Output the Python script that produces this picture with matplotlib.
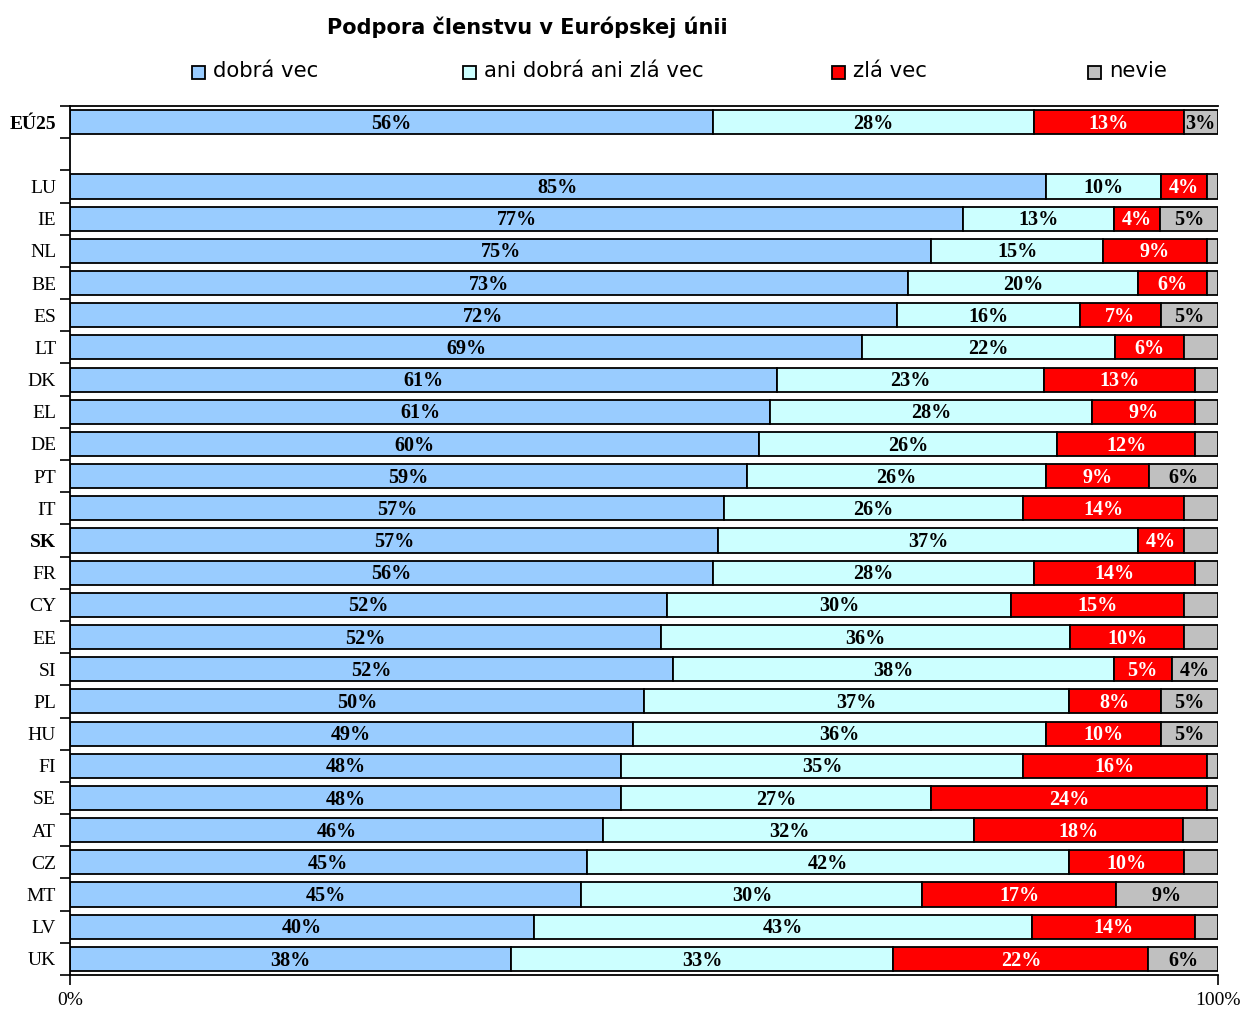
import matplotlib
matplotlib.use("Agg")
import matplotlib.pyplot as plt
import numpy as np
from matplotlib.patches import Rectangle

# --- data ---
countries = ['EÚ25', 'LU', 'IE', 'NL', 'BE', 'ES', 'LT', 'DK', 'EL', 'DE', 'PT', 'IT', 'SK',
             'FR', 'CY', 'EE', 'SI', 'PL', 'HU', 'FI', 'SE', 'AT', 'CZ', 'MT', 'LV', 'UK']
good = [56, 85, 77, 75, 73, 72, 69, 61, 61, 60, 59, 57, 57, 56, 52, 52, 52, 50, 49, 48, 48, 46, 45, 45, 40, 38]
neither = [28, 10, 13, 15, 20, 16, 22, 23, 28, 26, 26, 26, 37, 28, 30, 36, 38, 37, 36, 35, 27, 32, 42, 30, 43, 33]
bad = [13, 4, 4, 9, 6, 7, 6, 13, 9, 12, 9, 14, 4, 14, 15, 10, 5, 8, 10, 16, 24, 18, 10, 17, 14, 22]
dunno = [3, 1, 5, 1, 1, 5, 3, 2, 2, 2, 6, 3, 3, 2, 3, 3, 4, 5, 5, 1, 1, 3, 3, 9, 2, 6]
series_names = ['dobrá vec', 'ani dobrá ani zlá vec', 'zlá vec', 'nevie']
colors = ['#99CCFF', '#CCFFFF', '#FF0000', '#C0C0C0']
text_colors = ['black', 'black', 'white', 'black']
bold_rows = ['EÚ25', 'SK']

data = np.array([good, neither, bad, dunno], dtype=float)
shares = data / data.sum(axis=0) * 100

# EU25 on top, one empty row, then the countries
ypos = np.array([0] + [i + 1 for i in range(1, len(countries))])

fig = plt.figure(figsize=(12.46, 10.10), dpi=100)
ax = fig.add_axes([70 / 1246, 35 / 1010, 1148 / 1246, 869 / 1010])

left = np.zeros(len(countries))
for k in range(4):
    ax.barh(ypos, shares[k], left=left, height=0.75, color=colors[k],
            edgecolor='black', linewidth=1.3)
    for i, c in enumerate(countries):
        v = data[k, i]
        if k == 3 and v < 4 and c != 'EÚ25':
            continue
        ax.text(left[i] + shares[k, i] / 2, ypos[i] + 0.05, f"{int(v)}%", ha='center', va='center',
                color=text_colors[k], fontsize=14.5, fontweight='bold',
                family='Liberation Serif')
    left += shares[k]

ax.set_xlim(0, 100)
ax.set_ylim(ypos.max() + 0.47, -0.47)
ax.set_yticks(ypos)
ax.set_yticklabels(countries, family='Liberation Serif', fontsize=14)
for lbl in ax.get_yticklabels():
    if lbl.get_text() in bold_rows:
        lbl.set_fontweight('bold')
ax.set_yticks(np.arange(-0.5, ypos.max() + 1, 1), minor=True)
ax.tick_params(axis='y', which='major', length=0, pad=10)
ax.tick_params(axis='y', which='minor', length=7, width=1.2, direction='out')
ax.set_xticks([0, 100])
ax.set_xticklabels(['0%', '100%'], family='Liberation Serif', fontsize=14)
ax.tick_params(axis='x', length=7, width=1.2, pad=5)
ax.spines['right'].set_visible(False)
for s in ['top', 'bottom', 'left']:
    ax.spines[s].set_linewidth(1.3)

fig.text(527 / 1246, 1 - 27 / 1010, 'Podpora členstvu v Európskej únii', ha='center', va='center',
         fontsize=15, fontweight='bold', family='DejaVu Sans')

# legend drawn as a row of boxes + labels
leg_x = [192, 463, 832, 1088]
for k in range(4):
    fig.patches.append(Rectangle((leg_x[k] / 1246, 1 - 79 / 1010), 13 / 1246, 13 / 1010,
                                 transform=fig.transFigure, facecolor=colors[k],
                                 edgecolor='black', linewidth=1.3))
    fig.text((leg_x[k] + 21) / 1246, 1 - 71 / 1010, series_names[k], ha='left', va='center',
             fontsize=15.3, family='DejaVu Sans')

plt.savefig("out.png", dpi=100)
